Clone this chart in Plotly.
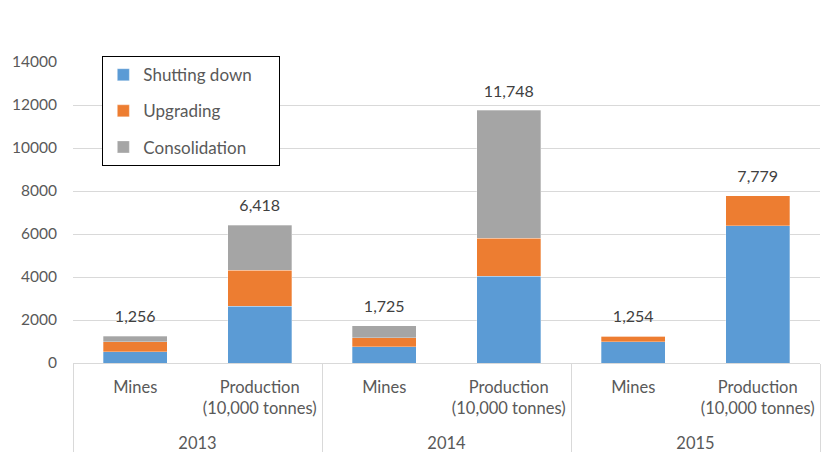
import plotly.graph_objects as go

years = ["2013", "2013", "2014", "2014", "2015", "2015"]
measures = ["Mines", "Production<br>(10,000 tonnes)<br>\u00a0"] * 3
shutting_down = [525, 2631, 762, 4033, 1000, 6388]
upgrading = [465, 1682, 406, 1775, 254, 1391]
consolidation = [266, 2105, 557, 5940, 0, 0]
totals = [1256, 6418, 1725, 11748, 1254, 7779]
total_labels = ["1,256", "6,418", "1,725", "11,748", "1,254", "7,779"]
y_ticks = [0, 2000, 4000, 6000, 8000, 10000, 12000, 14000]

FONT = "Lato"
x = [years, measures]
NB = "\u00a0"

fig = go.Figure()
series = [("Shutting down", shutting_down, "#5B9BD5"),
          ("Upgrading", upgrading, "#ED7D31"),
          ("Consolidation", consolidation, "#A5A5A5")]
for i, (name, vals, col) in enumerate(series):
    fig.add_trace(go.Bar(x=x, y=vals, name=name + NB * 5, marker_color=col,
                         marker_line_color="rgba(255,255,255,0.6)", marker_line_width=0.5,
                         legendgroup=f"g{i}"))

fig.add_trace(go.Scatter(x=x, y=totals, mode="markers+text", text=total_labels,
                         textposition="top center", showlegend=False,
                         marker=dict(size=14, color="rgba(0,0,0,0)"),
                         textfont=dict(family=FONT, size=16, color="#404040"),
                         cliponaxis=False, hoverinfo="skip"))

fig.update_layout(
    barmode="stack",
    bargap=0.485,
    width=824, height=452,
    margin=dict(l=73, r=4, t=62, b=89),
    paper_bgcolor="white", plot_bgcolor="white",
    font=dict(family=FONT, size=16, color="#595959"),
    legend=dict(x=0.039, y=1.02, xanchor="left", yanchor="top",
                bordercolor="black", borderwidth=1.2, bgcolor="white",
                font=dict(family=FONT, size=17, color="#595959"),
                tracegroupgap=11, itemwidth=30),
)
fig.update_yaxes(range=[0, 14000], tickvals=y_ticks, showgrid=True,
                 gridcolor="#D9D9D9", gridwidth=1, zeroline=False,
                 showline=False, ticks="", tickformat="d",
                 ticklabelstandoff=15, automargin=False,
                 tickfont=dict(family=FONT, size=15.5, color="#595959"))
fig.update_xaxes(type="multicategory", showline=True, linecolor="#D9D9D9",
                 linewidth=1, showdividers=True, dividercolor="#D9D9D9",
                 dividerwidth=1, ticks="", ticklabelstandoff=9,
                 automargin=False,
                 tickfont=dict(family=FONT, size=16.5, color="#595959"))

fig.write_html("out.html")
